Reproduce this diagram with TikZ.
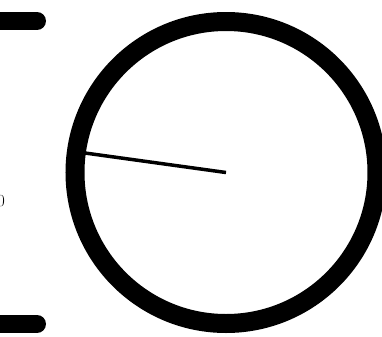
\documentclass[tikz,border=0pt]{standalone}
\begin{document}
\begin{tikzpicture}[x=1bp, y=-1bp, >=stealth,
  ring/.style={line width=19bp},
  bar/.style={line width=18bp, line cap=round},
  hand/.style={line width=3.5bp}]
  \useasboundingbox (0,0) rectangle (382,337);

  % Dial
  \coordinate (c) at (226,172.5);
  \draw[ring] (c) circle (151);

  % Hand
  \coordinate (tip) at (85,153);
  \draw[hand] (c) -- (tip);

  % Bars on the left
  \coordinate (b1) at (37,21);
  \coordinate (b2) at (37,324);
  \draw[bar] (-30,21) -- (b1);
  \draw[bar] (-30,324) -- (b2);

  % Label cut by the edge
  \node[anchor=east, inner sep=0pt, font=\fontsize{17}{20}\selectfont] (zero) at (5,201) {0};
\end{tikzpicture}
\end{document}
